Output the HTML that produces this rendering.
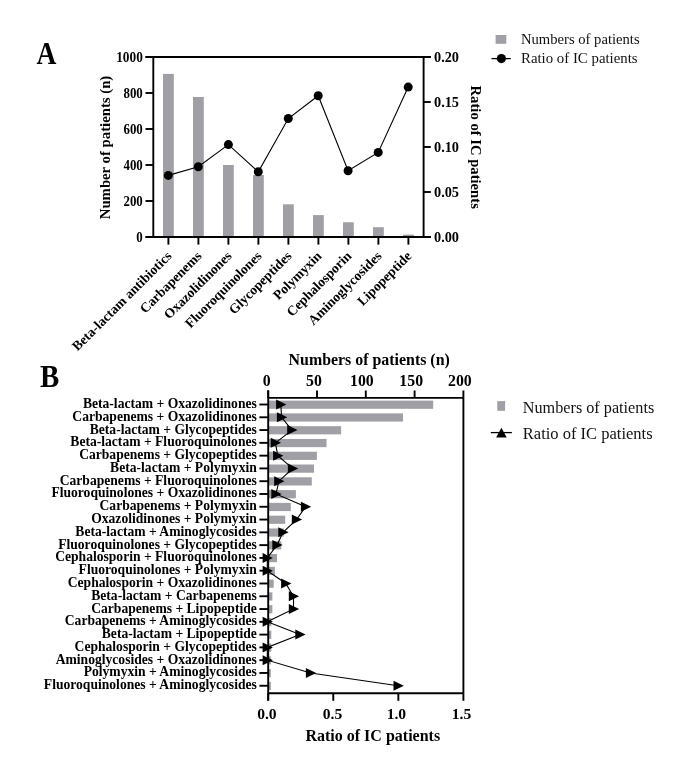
<!DOCTYPE html>
<html><head><meta charset="utf-8"><title>Figure</title>
<style>html,body{margin:0;padding:0;background:#fff;}svg{display:block;font-family:"Liberation Serif", "Times New Roman", serif;}</style>
</head><body>
<svg width="685" height="775" viewBox="0 0 685 775">
<rect width="685" height="775" fill="#fff"/>
<rect x="163.00" y="73.90" width="10.80" height="163.10" fill="#a09fa5"/>
<rect x="193.00" y="97.00" width="10.80" height="140.00" fill="#a09fa5"/>
<rect x="223.00" y="165.00" width="10.80" height="72.00" fill="#a09fa5"/>
<rect x="253.00" y="175.00" width="10.80" height="62.00" fill="#a09fa5"/>
<rect x="283.00" y="204.30" width="10.80" height="32.70" fill="#a09fa5"/>
<rect x="313.00" y="215.10" width="10.80" height="21.90" fill="#a09fa5"/>
<rect x="343.00" y="222.30" width="10.80" height="14.70" fill="#a09fa5"/>
<rect x="373.00" y="227.20" width="10.80" height="9.80" fill="#a09fa5"/>
<rect x="403.00" y="234.60" width="10.80" height="2.40" fill="#a09fa5"/>
<line x1="145.50" y1="57.00" x2="430.80" y2="57.00" stroke="#000" stroke-width="1.9"/>
<line x1="145.50" y1="237.00" x2="430.80" y2="237.00" stroke="#000" stroke-width="1.9"/>
<line x1="153.30" y1="57.00" x2="153.30" y2="237.00" stroke="#000" stroke-width="1.9"/>
<line x1="423.60" y1="57.00" x2="423.60" y2="237.00" stroke="#000" stroke-width="1.9"/>
<line x1="145.50" y1="237.00" x2="153.30" y2="237.00" stroke="#000" stroke-width="1.9"/>
<line x1="145.50" y1="201.00" x2="153.30" y2="201.00" stroke="#000" stroke-width="1.9"/>
<line x1="145.50" y1="165.00" x2="153.30" y2="165.00" stroke="#000" stroke-width="1.9"/>
<line x1="145.50" y1="129.00" x2="153.30" y2="129.00" stroke="#000" stroke-width="1.9"/>
<line x1="145.50" y1="93.00" x2="153.30" y2="93.00" stroke="#000" stroke-width="1.9"/>
<line x1="145.50" y1="57.00" x2="153.30" y2="57.00" stroke="#000" stroke-width="1.9"/>
<line x1="423.60" y1="237.00" x2="430.80" y2="237.00" stroke="#000" stroke-width="1.9"/>
<line x1="423.60" y1="192.00" x2="430.80" y2="192.00" stroke="#000" stroke-width="1.9"/>
<line x1="423.60" y1="147.00" x2="430.80" y2="147.00" stroke="#000" stroke-width="1.9"/>
<line x1="423.60" y1="102.00" x2="430.80" y2="102.00" stroke="#000" stroke-width="1.9"/>
<line x1="423.60" y1="57.00" x2="430.80" y2="57.00" stroke="#000" stroke-width="1.9"/>
<line x1="168.40" y1="237.00" x2="168.40" y2="244.60" stroke="#000" stroke-width="1.9"/>
<line x1="198.40" y1="237.00" x2="198.40" y2="244.60" stroke="#000" stroke-width="1.9"/>
<line x1="228.40" y1="237.00" x2="228.40" y2="244.60" stroke="#000" stroke-width="1.9"/>
<line x1="258.40" y1="237.00" x2="258.40" y2="244.60" stroke="#000" stroke-width="1.9"/>
<line x1="288.40" y1="237.00" x2="288.40" y2="244.60" stroke="#000" stroke-width="1.9"/>
<line x1="318.40" y1="237.00" x2="318.40" y2="244.60" stroke="#000" stroke-width="1.9"/>
<line x1="348.40" y1="237.00" x2="348.40" y2="244.60" stroke="#000" stroke-width="1.9"/>
<line x1="378.40" y1="237.00" x2="378.40" y2="244.60" stroke="#000" stroke-width="1.9"/>
<line x1="408.40" y1="237.00" x2="408.40" y2="244.60" stroke="#000" stroke-width="1.9"/>
<polyline fill="none" stroke="#000" stroke-width="1.1" points="168.3,175.4 198.3,166.7 228.4,144.6 258.3,171.8 288.3,118.5 318.2,95.7 348.1,170.7 378.2,152.4 408.2,87.1"/>
<circle cx="168.3" cy="175.4" r="4.5" fill="#000"/>
<circle cx="198.3" cy="166.7" r="4.5" fill="#000"/>
<circle cx="228.4" cy="144.6" r="4.5" fill="#000"/>
<circle cx="258.3" cy="171.8" r="4.5" fill="#000"/>
<circle cx="288.3" cy="118.5" r="4.5" fill="#000"/>
<circle cx="318.2" cy="95.7" r="4.5" fill="#000"/>
<circle cx="348.1" cy="170.7" r="4.5" fill="#000"/>
<circle cx="378.2" cy="152.4" r="4.5" fill="#000"/>
<circle cx="408.2" cy="87.1" r="4.5" fill="#000"/>
<text x="142.80" y="241.60" font-size="14.3" font-weight="bold" text-anchor="end" fill="#000" textLength="6.44" lengthAdjust="spacingAndGlyphs">0</text>
<text x="142.80" y="205.60" font-size="14.3" font-weight="bold" text-anchor="end" fill="#000" textLength="19.31" lengthAdjust="spacingAndGlyphs">200</text>
<text x="142.80" y="169.60" font-size="14.3" font-weight="bold" text-anchor="end" fill="#000" textLength="19.31" lengthAdjust="spacingAndGlyphs">400</text>
<text x="142.80" y="133.60" font-size="14.3" font-weight="bold" text-anchor="end" fill="#000" textLength="19.31" lengthAdjust="spacingAndGlyphs">600</text>
<text x="142.80" y="97.60" font-size="14.3" font-weight="bold" text-anchor="end" fill="#000" textLength="19.31" lengthAdjust="spacingAndGlyphs">800</text>
<text x="142.80" y="61.60" font-size="14.3" font-weight="bold" text-anchor="end" fill="#000" textLength="26.60" lengthAdjust="spacingAndGlyphs">1000</text>
<text x="434.00" y="241.60" font-size="14.3" font-weight="bold" text-anchor="start" fill="#000">0.00</text>
<text x="434.00" y="196.60" font-size="14.3" font-weight="bold" text-anchor="start" fill="#000">0.05</text>
<text x="434.00" y="151.60" font-size="14.3" font-weight="bold" text-anchor="start" fill="#000">0.10</text>
<text x="434.00" y="106.60" font-size="14.3" font-weight="bold" text-anchor="start" fill="#000">0.15</text>
<text x="434.00" y="61.60" font-size="14.3" font-weight="bold" text-anchor="start" fill="#000">0.20</text>
<text x="109.60" y="147.50" font-size="14.7" font-weight="bold" text-anchor="middle" fill="#000" textLength="143.50" lengthAdjust="spacingAndGlyphs" transform="rotate(-90 109.60 147.50)">Number of patients (n)</text>
<text x="471.00" y="147.20" font-size="14.7" font-weight="bold" text-anchor="middle" fill="#000" textLength="123.30" lengthAdjust="spacingAndGlyphs" transform="rotate(90 471.00 147.20)">Ratio of IC patients</text>
<text x="172.40" y="256.80" font-size="13.6" font-weight="bold" text-anchor="end" fill="#000" transform="rotate(-45 172.40 256.80)">Beta-lactam antibiotics</text>
<text x="202.40" y="256.80" font-size="13.6" font-weight="bold" text-anchor="end" fill="#000" transform="rotate(-45 202.40 256.80)">Carbapenems</text>
<text x="232.40" y="256.80" font-size="13.6" font-weight="bold" text-anchor="end" fill="#000" transform="rotate(-45 232.40 256.80)">Oxazolidinones</text>
<text x="262.40" y="256.80" font-size="13.6" font-weight="bold" text-anchor="end" fill="#000" transform="rotate(-45 262.40 256.80)">Fluoroquinolones</text>
<text x="292.40" y="256.80" font-size="13.6" font-weight="bold" text-anchor="end" fill="#000" transform="rotate(-45 292.40 256.80)">Glycopeptides</text>
<text x="322.40" y="256.80" font-size="13.6" font-weight="bold" text-anchor="end" fill="#000" transform="rotate(-45 322.40 256.80)">Polymyxin</text>
<text x="352.40" y="256.80" font-size="13.6" font-weight="bold" text-anchor="end" fill="#000" transform="rotate(-45 352.40 256.80)">Cephalosporin</text>
<text x="382.40" y="256.80" font-size="13.6" font-weight="bold" text-anchor="end" fill="#000" transform="rotate(-45 382.40 256.80)">Aminoglycosides</text>
<text x="412.40" y="256.80" font-size="13.6" font-weight="bold" text-anchor="end" fill="#000" transform="rotate(-45 412.40 256.80)">Lipopeptide</text>
<text x="36.40" y="63.50" font-size="31" font-weight="bold" text-anchor="start" fill="#000" textLength="19.90" lengthAdjust="spacingAndGlyphs">A</text>
<rect x="495.60" y="35.00" width="10.70" height="8.80" fill="#a09fa5"/>
<text x="521.00" y="43.90" font-size="14.4" font-weight="normal" text-anchor="start" fill="#111" textLength="118.60" lengthAdjust="spacingAndGlyphs">Numbers of patients</text>
<line x1="491.50" y1="58.60" x2="510.80" y2="58.60" stroke="#000" stroke-width="1.3"/>
<circle cx="501.4" cy="58.6" r="4.6" fill="#000"/>
<text x="521.00" y="63.20" font-size="14.4" font-weight="normal" text-anchor="start" fill="#111" textLength="116.60" lengthAdjust="spacingAndGlyphs">Ratio of IC patients</text>
<rect x="268.20" y="400.60" width="165.00" height="8.20" fill="#a09fa5"/>
<rect x="268.20" y="413.38" width="134.80" height="8.20" fill="#a09fa5"/>
<rect x="268.20" y="426.17" width="72.90" height="8.20" fill="#a09fa5"/>
<rect x="268.20" y="438.95" width="58.30" height="8.20" fill="#a09fa5"/>
<rect x="268.20" y="451.74" width="48.70" height="8.20" fill="#a09fa5"/>
<rect x="268.20" y="464.52" width="45.80" height="8.20" fill="#a09fa5"/>
<rect x="268.20" y="477.30" width="43.60" height="8.20" fill="#a09fa5"/>
<rect x="268.20" y="490.09" width="27.70" height="8.20" fill="#a09fa5"/>
<rect x="268.20" y="502.87" width="22.60" height="8.20" fill="#a09fa5"/>
<rect x="268.20" y="515.66" width="17.00" height="8.20" fill="#a09fa5"/>
<rect x="268.20" y="528.44" width="15.70" height="8.20" fill="#a09fa5"/>
<rect x="268.20" y="541.22" width="13.10" height="8.20" fill="#a09fa5"/>
<rect x="268.20" y="554.01" width="8.80" height="8.20" fill="#a09fa5"/>
<rect x="268.20" y="566.79" width="6.70" height="8.20" fill="#a09fa5"/>
<rect x="268.20" y="579.58" width="5.50" height="8.20" fill="#a09fa5"/>
<rect x="268.20" y="592.36" width="4.20" height="8.20" fill="#a09fa5"/>
<rect x="268.20" y="605.14" width="4.20" height="8.20" fill="#a09fa5"/>
<rect x="268.20" y="617.93" width="3.10" height="8.20" fill="#a09fa5"/>
<rect x="268.20" y="630.71" width="3.10" height="8.20" fill="#a09fa5"/>
<rect x="268.20" y="643.50" width="3.10" height="8.20" fill="#a09fa5"/>
<rect x="268.20" y="656.28" width="2.60" height="8.20" fill="#a09fa5"/>
<rect x="268.20" y="669.06" width="2.60" height="8.20" fill="#a09fa5"/>
<rect x="268.20" y="681.85" width="2.60" height="8.20" fill="#a09fa5"/>
<line x1="268.20" y1="390.30" x2="268.20" y2="700.50" stroke="#000" stroke-width="1.9"/>
<line x1="463.40" y1="397.90" x2="463.40" y2="693.30" stroke="#000" stroke-width="1.9"/>
<line x1="268.20" y1="397.90" x2="463.40" y2="397.90" stroke="#000" stroke-width="1.9"/>
<line x1="268.20" y1="693.30" x2="463.40" y2="693.30" stroke="#000" stroke-width="1.9"/>
<line x1="268.20" y1="390.50" x2="268.20" y2="397.90" stroke="#000" stroke-width="1.9"/>
<line x1="317.00" y1="390.50" x2="317.00" y2="397.90" stroke="#000" stroke-width="1.9"/>
<line x1="365.80" y1="390.50" x2="365.80" y2="397.90" stroke="#000" stroke-width="1.9"/>
<line x1="414.60" y1="390.50" x2="414.60" y2="397.90" stroke="#000" stroke-width="1.9"/>
<line x1="463.40" y1="390.50" x2="463.40" y2="397.90" stroke="#000" stroke-width="1.9"/>
<line x1="268.20" y1="693.30" x2="268.20" y2="700.80" stroke="#000" stroke-width="1.9"/>
<line x1="333.27" y1="693.30" x2="333.27" y2="700.80" stroke="#000" stroke-width="1.9"/>
<line x1="398.34" y1="693.30" x2="398.34" y2="700.80" stroke="#000" stroke-width="1.9"/>
<line x1="463.41" y1="693.30" x2="463.41" y2="700.80" stroke="#000" stroke-width="1.9"/>
<line x1="259.40" y1="404.50" x2="268.20" y2="404.50" stroke="#000" stroke-width="1.9"/>
<line x1="259.40" y1="417.28" x2="268.20" y2="417.28" stroke="#000" stroke-width="1.9"/>
<line x1="259.40" y1="430.07" x2="268.20" y2="430.07" stroke="#000" stroke-width="1.9"/>
<line x1="259.40" y1="442.85" x2="268.20" y2="442.85" stroke="#000" stroke-width="1.9"/>
<line x1="259.40" y1="455.64" x2="268.20" y2="455.64" stroke="#000" stroke-width="1.9"/>
<line x1="259.40" y1="468.42" x2="268.20" y2="468.42" stroke="#000" stroke-width="1.9"/>
<line x1="259.40" y1="481.20" x2="268.20" y2="481.20" stroke="#000" stroke-width="1.9"/>
<line x1="259.40" y1="493.99" x2="268.20" y2="493.99" stroke="#000" stroke-width="1.9"/>
<line x1="259.40" y1="506.77" x2="268.20" y2="506.77" stroke="#000" stroke-width="1.9"/>
<line x1="259.40" y1="519.56" x2="268.20" y2="519.56" stroke="#000" stroke-width="1.9"/>
<line x1="259.40" y1="532.34" x2="268.20" y2="532.34" stroke="#000" stroke-width="1.9"/>
<line x1="259.40" y1="545.12" x2="268.20" y2="545.12" stroke="#000" stroke-width="1.9"/>
<line x1="259.40" y1="557.91" x2="268.20" y2="557.91" stroke="#000" stroke-width="1.9"/>
<line x1="259.40" y1="570.69" x2="268.20" y2="570.69" stroke="#000" stroke-width="1.9"/>
<line x1="259.40" y1="583.48" x2="268.20" y2="583.48" stroke="#000" stroke-width="1.9"/>
<line x1="259.40" y1="596.26" x2="268.20" y2="596.26" stroke="#000" stroke-width="1.9"/>
<line x1="259.40" y1="609.04" x2="268.20" y2="609.04" stroke="#000" stroke-width="1.9"/>
<line x1="259.40" y1="621.83" x2="268.20" y2="621.83" stroke="#000" stroke-width="1.9"/>
<line x1="259.40" y1="634.61" x2="268.20" y2="634.61" stroke="#000" stroke-width="1.9"/>
<line x1="259.40" y1="647.40" x2="268.20" y2="647.40" stroke="#000" stroke-width="1.9"/>
<line x1="259.40" y1="660.18" x2="268.20" y2="660.18" stroke="#000" stroke-width="1.9"/>
<line x1="259.40" y1="672.96" x2="268.20" y2="672.96" stroke="#000" stroke-width="1.9"/>
<line x1="259.40" y1="685.75" x2="268.20" y2="685.75" stroke="#000" stroke-width="1.9"/>
<polyline fill="none" stroke="#000" stroke-width="1.1" points="280.8,404.5 281.6,417.3 291.9,430.1 275.4,442.9 277.8,455.6 292.6,468.4 278.9,481.2 276.0,494.0 305.6,506.8 296.5,519.6 283.0,532.3 277.0,545.1 267.3,557.9 267.3,570.7 285.8,583.5 293.5,596.3 293.5,609.0 267.3,621.8 300.0,634.6 267.3,647.4 267.3,660.2 310.6,673.0 398.2,685.7"/>
<path d="M276.10,399.50 L286.40,404.50 L276.10,409.50 Z" fill="#000"/>
<path d="M276.90,412.28 L287.20,417.28 L276.90,422.28 Z" fill="#000"/>
<path d="M287.20,425.07 L297.50,430.07 L287.20,435.07 Z" fill="#000"/>
<path d="M270.70,437.85 L281.00,442.85 L270.70,447.85 Z" fill="#000"/>
<path d="M273.10,450.64 L283.40,455.64 L273.10,460.64 Z" fill="#000"/>
<path d="M287.90,463.42 L298.20,468.42 L287.90,473.42 Z" fill="#000"/>
<path d="M274.20,476.20 L284.50,481.20 L274.20,486.20 Z" fill="#000"/>
<path d="M271.30,488.99 L281.60,493.99 L271.30,498.99 Z" fill="#000"/>
<path d="M300.90,501.77 L311.20,506.77 L300.90,511.77 Z" fill="#000"/>
<path d="M291.80,514.56 L302.10,519.56 L291.80,524.56 Z" fill="#000"/>
<path d="M278.30,527.34 L288.60,532.34 L278.30,537.34 Z" fill="#000"/>
<path d="M272.30,540.12 L282.60,545.12 L272.30,550.12 Z" fill="#000"/>
<path d="M262.60,552.91 L272.90,557.91 L262.60,562.91 Z" fill="#000"/>
<path d="M262.60,565.69 L272.90,570.69 L262.60,575.69 Z" fill="#000"/>
<path d="M281.10,578.48 L291.40,583.48 L281.10,588.48 Z" fill="#000"/>
<path d="M288.80,591.26 L299.10,596.26 L288.80,601.26 Z" fill="#000"/>
<path d="M288.80,604.04 L299.10,609.04 L288.80,614.04 Z" fill="#000"/>
<path d="M262.60,616.83 L272.90,621.83 L262.60,626.83 Z" fill="#000"/>
<path d="M295.30,629.61 L305.60,634.61 L295.30,639.61 Z" fill="#000"/>
<path d="M262.60,642.40 L272.90,647.40 L262.60,652.40 Z" fill="#000"/>
<path d="M262.60,655.18 L272.90,660.18 L262.60,665.18 Z" fill="#000"/>
<path d="M305.90,667.96 L316.20,672.96 L305.90,677.96 Z" fill="#000"/>
<path d="M393.50,680.75 L403.80,685.75 L393.50,690.75 Z" fill="#000"/>
<text x="256.80" y="408.00" font-size="13.6" font-weight="bold" text-anchor="end" fill="#000">Beta-lactam + Oxazolidinones</text>
<text x="256.80" y="420.78" font-size="13.6" font-weight="bold" text-anchor="end" fill="#000">Carbapenems + Oxazolidinones</text>
<text x="256.80" y="433.57" font-size="13.6" font-weight="bold" text-anchor="end" fill="#000">Beta-lactam + Glycopeptides</text>
<text x="256.80" y="446.35" font-size="13.6" font-weight="bold" text-anchor="end" fill="#000">Beta-lactam + Fluoroquinolones</text>
<text x="256.80" y="459.14" font-size="13.6" font-weight="bold" text-anchor="end" fill="#000">Carbapenems + Glycopeptides</text>
<text x="256.80" y="471.92" font-size="13.6" font-weight="bold" text-anchor="end" fill="#000">Beta-lactam + Polymyxin</text>
<text x="256.80" y="484.70" font-size="13.6" font-weight="bold" text-anchor="end" fill="#000">Carbapenems + Fluoroquinolones</text>
<text x="256.80" y="497.49" font-size="13.6" font-weight="bold" text-anchor="end" fill="#000">Fluoroquinolones + Oxazolidinones</text>
<text x="256.80" y="510.27" font-size="13.6" font-weight="bold" text-anchor="end" fill="#000">Carbapenems + Polymyxin</text>
<text x="256.80" y="523.06" font-size="13.6" font-weight="bold" text-anchor="end" fill="#000">Oxazolidinones + Polymyxin</text>
<text x="256.80" y="535.84" font-size="13.6" font-weight="bold" text-anchor="end" fill="#000">Beta-lactam + Aminoglycosides</text>
<text x="256.80" y="548.62" font-size="13.6" font-weight="bold" text-anchor="end" fill="#000">Fluoroquinolones + Glycopeptides</text>
<text x="256.80" y="561.41" font-size="13.6" font-weight="bold" text-anchor="end" fill="#000">Cephalosporin + Fluoroquinolones</text>
<text x="256.80" y="574.19" font-size="13.6" font-weight="bold" text-anchor="end" fill="#000">Fluoroquinolones + Polymyxin</text>
<text x="256.80" y="586.98" font-size="13.6" font-weight="bold" text-anchor="end" fill="#000">Cephalosporin + Oxazolidinones</text>
<text x="256.80" y="599.76" font-size="13.6" font-weight="bold" text-anchor="end" fill="#000">Beta-lactam + Carbapenems</text>
<text x="256.80" y="612.54" font-size="13.6" font-weight="bold" text-anchor="end" fill="#000">Carbapenems + Lipopeptide</text>
<text x="256.80" y="625.33" font-size="13.6" font-weight="bold" text-anchor="end" fill="#000">Carbapenems + Aminoglycosides</text>
<text x="256.80" y="638.11" font-size="13.6" font-weight="bold" text-anchor="end" fill="#000">Beta-lactam + Lipopeptide</text>
<text x="256.80" y="650.90" font-size="13.6" font-weight="bold" text-anchor="end" fill="#000">Cephalosporin + Glycopeptides</text>
<text x="256.80" y="663.68" font-size="13.6" font-weight="bold" text-anchor="end" fill="#000">Aminoglycosides + Oxazolidinones</text>
<text x="256.80" y="676.46" font-size="13.6" font-weight="bold" text-anchor="end" fill="#000">Polymyxin + Aminoglycosides</text>
<text x="256.80" y="689.25" font-size="13.6" font-weight="bold" text-anchor="end" fill="#000">Fluoroquinolones + Aminoglycosides</text>
<text x="266.80" y="386.30" font-size="15.8" font-weight="bold" text-anchor="middle" fill="#000">0</text>
<text x="314.00" y="386.30" font-size="15.8" font-weight="bold" text-anchor="middle" fill="#000">50</text>
<text x="361.90" y="386.30" font-size="15.8" font-weight="bold" text-anchor="middle" fill="#000">100</text>
<text x="411.20" y="386.30" font-size="15.8" font-weight="bold" text-anchor="middle" fill="#000">150</text>
<text x="459.90" y="386.30" font-size="15.8" font-weight="bold" text-anchor="middle" fill="#000">200</text>
<text x="369.20" y="365.20" font-size="15.9" font-weight="bold" text-anchor="middle" fill="#000" textLength="161.20" lengthAdjust="spacingAndGlyphs">Numbers of patients (n)</text>
<text x="266.90" y="719.10" font-size="15.6" font-weight="bold" text-anchor="middle" fill="#000">0.0</text>
<text x="332.50" y="719.10" font-size="15.6" font-weight="bold" text-anchor="middle" fill="#000">0.5</text>
<text x="396.40" y="719.10" font-size="15.6" font-weight="bold" text-anchor="middle" fill="#000">1.0</text>
<text x="461.50" y="719.10" font-size="15.6" font-weight="bold" text-anchor="middle" fill="#000">1.5</text>
<text x="372.80" y="740.90" font-size="16.3" font-weight="bold" text-anchor="middle" fill="#000" textLength="134.80" lengthAdjust="spacingAndGlyphs">Ratio of IC patients</text>
<text x="40.10" y="387.30" font-size="31" font-weight="bold" text-anchor="start" fill="#000" textLength="19.30" lengthAdjust="spacingAndGlyphs">B</text>
<rect x="497.30" y="401.10" width="7.80" height="9.70" fill="#a09fa5"/>
<text x="522.80" y="412.60" font-size="16" font-weight="normal" text-anchor="start" fill="#111" textLength="131.40" lengthAdjust="spacingAndGlyphs">Numbers of patients</text>
<line x1="490.80" y1="432.60" x2="511.90" y2="432.60" stroke="#000" stroke-width="1.3"/>
<path d="M501.4,427.7 L506.7,437.6 L496.1,437.6 Z" fill="#000"/>
<text x="522.80" y="439.30" font-size="16" font-weight="normal" text-anchor="start" fill="#111" textLength="129.80" lengthAdjust="spacingAndGlyphs">Ratio of IC patients</text>
</svg>
</body></html>
